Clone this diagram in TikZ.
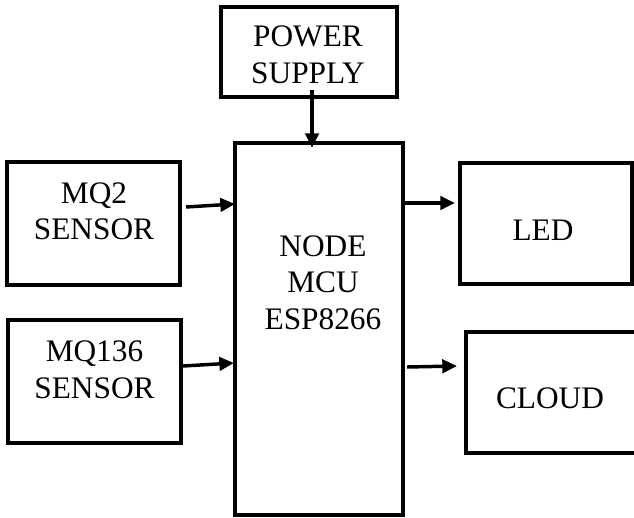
\documentclass[tikz,border=0pt]{standalone}
\usepackage{fontspec}
\setmainfont{Liberation Serif}
\usetikzlibrary{arrows.meta}
\begin{document}
\begin{tikzpicture}[x=0.75pt,y=-0.75pt,
  blk/.style={draw=black,line width=2.8pt,rectangle,inner sep=0pt,outer sep=0pt},
  lbl/.style={inner sep=0pt,align=center,font=\fontsize{23.5}{27.4}\selectfont},
  arr/.style={line width=2.6pt,-{Triangle[length=11pt,width=10pt]}}]
\path[use as bounding box,clip] (0,0) rectangle (634,517);
\node[blk,minimum width=176*0.75pt,minimum height=90*0.75pt] (pow) at (309,52) {};
\node[blk,minimum width=168*0.75pt,minimum height=372*0.75pt] (mcu) at (319,329) {};
\node[blk,minimum width=173*0.75pt,minimum height=123*0.75pt] (mq2) at (93.5,223.5) {};
\node[blk,minimum width=173*0.75pt,minimum height=123*0.75pt] (mq136) at (94.5,381.5) {};
\node[blk,minimum width=172*0.75pt,minimum height=121*0.75pt] (led) at (546,223.5) {};
\node[blk,minimum width=174*0.75pt,minimum height=121*0.75pt] (cloud) at (553,392.5) {};
\node[lbl] (tpow) at (308,55) {POWER\\SUPPLY};
\node[lbl] (tmq2) at (94,211.5) {MQ2\\SENSOR};
\node[lbl] (tmq136) at (94.5,370) {MQ136\\SENSOR};
\node[lbl] (tled) at (543,230) {LED};
\node[lbl] (tcloud) at (550,398.5) {CLOUD};
\node[lbl] (tmcu) at (323,282.5) {NODE\\MCU\\ESP8266};
\draw[arr] ([shift={(3,-7)}]pow.south) -- ([shift={(-7,5)}]mcu.north);
\draw[arr] ([shift={(6,-16.5)}]mq2.east) -- ([shift={(0,-125)}]mcu.west);
\draw[arr] ([shift={(2,-15.5)}]mq136.east) -- ([shift={(-1,34)}]mcu.west);
\draw[arr] ([shift={(2,-126)}]mcu.east) -- ([shift={(-5,-20.5)}]led.west);
\draw[arr] ([shift={(4,38)}]mcu.east) -- ([shift={(-9,-26.5)}]cloud.west);
\end{tikzpicture}
\end{document}
